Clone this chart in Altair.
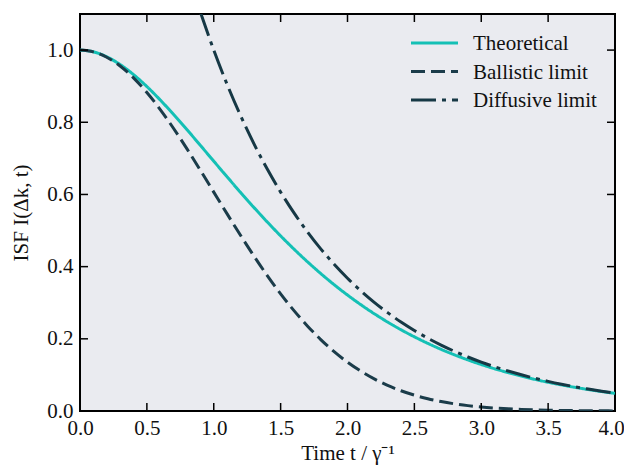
import altair as alt
import pandas as pd

# time grid (t / gamma^-1)
t_vals = [0.0, 0.1, 0.2, 0.3, 0.4, 0.5, 0.6, 0.7, 0.8, 0.9, 1.0, 1.1, 1.2, 1.3, 1.4,
          1.5, 1.6, 1.7, 1.8, 1.9, 2.0, 2.1, 2.2, 2.3, 2.4, 2.5, 2.6, 2.7, 2.8, 2.9,
          3.0, 3.1, 3.2, 3.3, 3.4, 3.5, 3.6, 3.7, 3.8, 3.9, 4.0]

theoretical = [1.0, 0.9952, 0.9814, 0.9600, 0.9321, 0.8990, 0.8617, 0.8215, 0.7794,
               0.7360, 0.6922, 0.6487, 0.6058, 0.5641, 0.5238, 0.4852, 0.4485, 0.4137,
               0.3809, 0.3501, 0.3213, 0.2945, 0.2696, 0.2465, 0.2252, 0.2056, 0.1875,
               0.1708, 0.1556, 0.1416, 0.1288, 0.1171, 0.1064, 0.0966, 0.0877, 0.0796,
               0.0723, 0.0656, 0.0595, 0.0539, 0.0489]

ballistic = [1.0, 0.9950, 0.9802, 0.9560, 0.9231, 0.8825, 0.8353, 0.7827, 0.7262,
             0.6670, 0.6065, 0.5461, 0.4868, 0.4296, 0.3753, 0.3247, 0.2780, 0.2358,
             0.1979, 0.1645, 0.1353, 0.1103, 0.0889, 0.0710, 0.0561, 0.0439, 0.0341,
             0.0261, 0.0198, 0.0149, 0.0111, 0.0082, 0.0060, 0.0043, 0.0031, 0.0022,
             0.0015, 0.0011, 0.0007, 0.0005, 0.0003]

t_diff = t_vals[9:]
diffusive = [1.1052, 1.0, 0.9048, 0.8187, 0.7408, 0.6703, 0.6065, 0.5488, 0.4966,
             0.4493, 0.4066, 0.3679, 0.3329, 0.3012, 0.2725, 0.2466, 0.2231, 0.2019,
             0.1827, 0.1653, 0.1496, 0.1353, 0.1225, 0.1108, 0.1003, 0.0907, 0.0821,
             0.0743, 0.0672, 0.0608, 0.0550, 0.0498]

series_names = ["Theoretical", "Ballistic limit", "Diffusive limit"]
series_colors = ["#14C0B5", "#1B3C4A", "#163845"]
series_dash = [[1, 0], [14, 6], [25, 6, 4, 6]]

x_ticks = [0.0, 0.5, 1.0, 1.5, 2.0, 2.5, 3.0, 3.5, 4.0]
y_ticks = [0.0, 0.2, 0.4, 0.6, 0.8, 1.0]

W, H = 535, 397
FONT = "Liberation Serif"
BG = "#EAEBF0"
FS = 21

rows = []
for t, v in zip(t_vals, theoretical):
    rows.append({"t": t, "I": v, "series": series_names[0], "order": 0})
for t, v in zip(t_vals, ballistic):
    rows.append({"t": t, "I": v, "series": series_names[1], "order": 1})
for t, v in zip(t_diff, diffusive):
    rows.append({"t": t, "I": v, "series": series_names[2], "order": 2})
df = pd.DataFrame(rows)

xscale = alt.Scale(domain=[0, 4], nice=False, zero=False)
yscale = alt.Scale(domain=[0, 1.1], nice=False, zero=False)

lines = alt.Chart(df).mark_line(strokeWidth=3, clip=True, interpolate="monotone").encode(
    x=alt.X("t:Q", scale=xscale,
            axis=alt.Axis(values=x_ticks, format=".1f", title="Time t / γ⁻¹",
                          labelFlush=False, labelOverlap=False, ticks=False, domain=False,
                          grid=False, labelPadding=6, titlePadding=4,
                          labelOffset=alt.expr("datum.value == 4 ? -4 : 0"))),
    y=alt.Y("I:Q", scale=yscale,
            axis=alt.Axis(values=y_ticks, format=".1f", title="ISF I(Δk, t)",
                          labelFlush=False, labelOverlap=False, ticks=False, domain=False,
                          grid=False, labelPadding=7, titlePadding=15)),
    color=alt.Color("series:N", scale=alt.Scale(domain=series_names, range=series_colors),
                    legend=None),
    strokeDash=alt.StrokeDash("series:N", scale=alt.Scale(domain=series_names, range=series_dash),
                              legend=None),
    detail="series:N",
    order="order:Q",
)

xt = pd.DataFrame({"v": x_ticks[1:-1]})
yt = pd.DataFrame({"v": y_ticks[1:]})
TL = 8
tick_b = alt.Chart(xt).mark_rule(color="black", strokeWidth=1.5).encode(
    x=alt.X("v:Q", scale=xscale), y=alt.value(H), y2=alt.value(H - TL))
tick_t = alt.Chart(xt).mark_rule(color="black", strokeWidth=1.5).encode(
    x=alt.X("v:Q", scale=xscale), y=alt.value(0), y2=alt.value(TL))
tick_l = alt.Chart(yt).mark_rule(color="black", strokeWidth=1.5).encode(
    y=alt.Y("v:Q", scale=yscale), x=alt.value(0), x2=alt.value(TL))
tick_r = alt.Chart(yt).mark_rule(color="black", strokeWidth=1.5).encode(
    y=alt.Y("v:Q", scale=yscale), x=alt.value(W), x2=alt.value(W - TL))

# legend (drawn inside the plot, top right)
leg_layers = []
LX0, LX1, LTX, LY0, LDY = 331, 378, 393, 29, 28.5
for i, name in enumerate(series_names):
    ld = pd.DataFrame({"label": [name]})
    yy = LY0 + LDY * i
    leg_layers.append(
        alt.Chart(ld).mark_rule(strokeWidth=3, color=series_colors[i],
                                strokeDash=series_dash[i]).encode(
            x=alt.value(LX0), x2=alt.value(LX1), y=alt.value(yy))
    )
    leg_layers.append(
        alt.Chart(ld).mark_text(align="left", baseline="middle", font=FONT,
                                fontSize=FS, color="#111").encode(
            x=alt.value(LTX), y=alt.value(yy + 1), text="label:N")
    )

chart = alt.layer(lines, tick_b, tick_t, tick_l, tick_r, *leg_layers).properties(
    width=W, height=H,
    autosize=alt.AutoSizeParams(type="none"),
    padding={"left": 72, "top": 6, "right": 9, "bottom": 57},
    background="white",
).configure_view(
    fill=BG, stroke="black", strokeWidth=2,
).configure_axis(
    labelFont=FONT, labelFontSize=FS, labelColor="#111",
    titleFont=FONT, titleFontSize=FS, titleFontWeight="normal", titleColor="#111",
)

chart.save("out.html", embed_options={"renderer": "svg", "actions": False})
